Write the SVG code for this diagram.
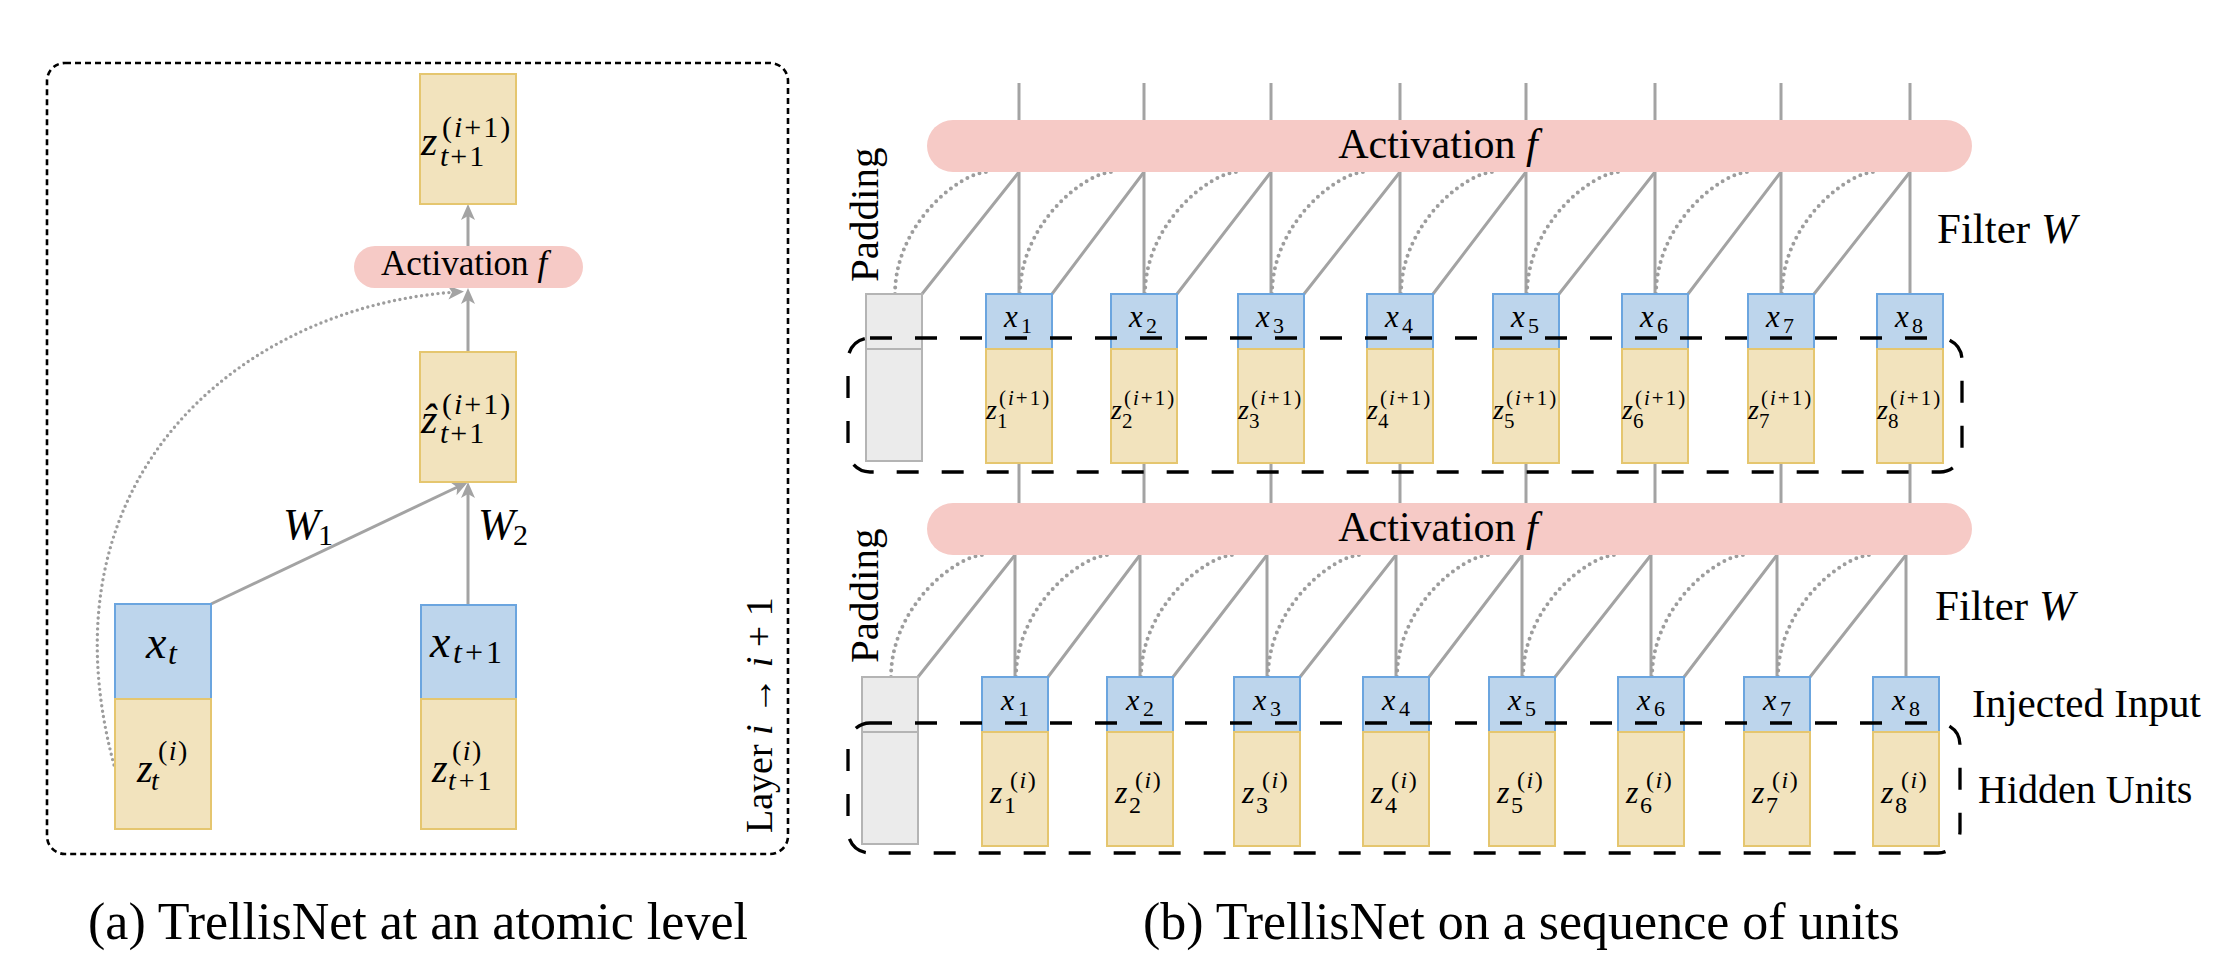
<svg xmlns="http://www.w3.org/2000/svg" width="2228" height="962" viewBox="0 0 2228 962">
<defs>
<style>
text{font-family:"Liberation Serif","Times New Roman",serif;fill:#000}
.zb{fill:#f2e3bd;stroke:#e5c66f;stroke-width:2}
.xb{fill:#bdd5ec;stroke:#6ba5df;stroke-width:2}
.pb{fill:#ebebeb;stroke:#b4b4b4;stroke-width:2}
.pill{fill:#f6cac6}
.ln{fill:none;stroke:#a3a3a3;stroke-width:3}
.dot{fill:none;stroke:#9d9d9d;stroke-width:4;stroke-dasharray:0 6.5;stroke-linecap:round}
.dotl{fill:none;stroke:#9d9d9d;stroke-width:3.4;stroke-dasharray:0 5.5;stroke-linecap:round}
.grp{fill:none;stroke:#000;stroke-width:3.3;stroke-dasharray:22 23}
.frame{fill:none;stroke:#000;stroke-width:2.6;stroke-dasharray:6 4}
.i{font-style:italic}
.r{font-style:normal}
</style>
<marker id="ah" markerUnits="userSpaceOnUse" markerWidth="26" markerHeight="20" viewBox="-13 -10 26 20" refX="0" refY="0" orient="auto">
<path d="M7,0 L-9,-7 L-5,0 L-9,7 Z" fill="#a3a3a3"/>
</marker>
</defs>
<rect width="2228" height="962" fill="#fff"/>

<g id="a-connectors">
<path class="dotl" d="M114,765 C35,470 250,305 457,292" marker-end="url(#ah)"/>
<path class="ln" d="M468,246 V211" marker-end="url(#ah)"/>
<path class="ln" d="M468,352 V295" marker-end="url(#ah)"/>
<path class="ln" d="M468,605 V489" marker-end="url(#ah)"/>
<path class="ln" d="M211,604 L461.7,485" marker-end="url(#ah)"/>
</g>
<g id="a-z-out">
<rect class="zb" x="420" y="74" width="96" height="130"/>
<text class="i" x="421" y="155" font-size="42">z<tspan x="440" y="166" font-size="30" letter-spacing="2">t<tspan class="r">+1</tspan></tspan><tspan class="r" x="442" y="137" font-size="30" letter-spacing="2">(<tspan class="i">i</tspan>+1)</tspan></text>
</g>
<g id="a-activation">
<rect class="pill" x="354" y="246" width="229" height="42" rx="21"/>
<text x="464" y="275" font-size="35" text-anchor="middle">Activation <tspan class="i">f</tspan></text>
</g>
<g id="a-z-hat">
<rect class="zb" x="420" y="352" width="96" height="130"/>
<text class="i" x="421" y="433" font-size="42">ẑ<tspan x="440" y="443" font-size="30" letter-spacing="2">t<tspan class="r">+1</tspan></tspan><tspan class="r" x="442" y="414" font-size="30" letter-spacing="2">(<tspan class="i">i</tspan>+1)</tspan></text>
</g>
<g id="a-x-t">
<rect class="xb" x="115" y="604" width="96" height="95"/>
<text class="i" x="146" y="658" font-size="46">x<tspan x="168" y="664" font-size="32">t</tspan></text>
</g>
<g id="a-z-t">
<rect class="zb" x="115" y="699" width="96" height="130"/>
<text class="i" x="137" y="782" font-size="40">z<tspan x="151" y="790" font-size="28">t</tspan><tspan class="r" x="158" y="760" font-size="28" letter-spacing="1.5">(<tspan class="i">i</tspan>)</tspan></text>
</g>
<g id="a-x-t1">
<rect class="xb" x="421" y="605" width="95" height="94"/>
<text class="i" x="430" y="657" font-size="46">x<tspan x="453" y="663" font-size="32" letter-spacing="3">t<tspan class="r">+1</tspan></tspan></text>
</g>
<g id="a-z-t1">
<rect class="zb" x="421" y="699" width="95" height="130"/>
<text class="i" x="432" y="782" font-size="40">z<tspan x="448" y="790" font-size="28" letter-spacing="3">t<tspan class="r">+1</tspan></tspan><tspan class="r" x="452" y="760" font-size="28" letter-spacing="1.5">(<tspan class="i">i</tspan>)</tspan></text>
</g>
<g id="a-labels">
<text class="i" x="283" y="539" font-size="44">W<tspan class="r" x="318" y="545" font-size="30">1</tspan></text>
<text class="i" x="478" y="539" font-size="44">W<tspan class="r" x="513" y="545" font-size="30">2</tspan></text>
<text transform="translate(772,833) rotate(-90)" font-size="38">Layer <tspan class="i">i</tspan> → <tspan class="i">i</tspan> + 1</text>
</g>
<g id="a-frame">
<rect class="frame" x="47" y="63" width="741" height="791" rx="18"/>
</g>

<g id="b-connectors">
<path class="ln" d="M1019,83 V294 M1144,83 V294 M1271,83 V294 M1400,83 V294 M1526,83 V294 M1655,83 V294 M1781,83 V294 M1910,83 V294"/>
<path class="ln" d="M1019,172 L922,294 M1144,172 L1052,294 M1271,172 L1177,294 M1400,172 L1304,294 M1526,172 L1433,294 M1655,172 L1559,294 M1781,172 L1688,294 M1910,172 L1814,294"/>
<path class="dot" d="M895,294 C895,224 960,172 988,172 M1020,294 C1020,224 1085,172 1113,172 M1145,294 C1145,224 1210,172 1238,172 M1272,294 C1272,224 1337,172 1365,172 M1401,294 C1401,224 1466,172 1494,172 M1527,294 C1527,224 1592,172 1620,172 M1656,294 C1656,224 1721,172 1749,172 M1782,294 C1782,224 1847,172 1875,172"/>
<path class="ln" d="M1019,463 V510 M1144,463 V510 M1271,463 V510 M1400,463 V510 M1526,463 V510 M1655,463 V510 M1781,463 V510 M1910,463 V510"/>
<path class="ln" d="M1015,510 V677 M1140,510 V677 M1267,510 V677 M1396,510 V677 M1522,510 V677 M1651,510 V677 M1777,510 V677 M1906,510 V677"/>
<path class="ln" d="M1015,555 L918,677 M1140,555 L1048,677 M1267,555 L1173,677 M1396,555 L1300,677 M1522,555 L1429,677 M1651,555 L1555,677 M1777,555 L1684,677 M1906,555 L1810,677"/>
<path class="dot" d="M891,677 C891,607 956,555 984,555 M1016,677 C1016,607 1081,555 1109,555 M1141,677 C1141,607 1206,555 1234,555 M1268,677 C1268,607 1333,555 1361,555 M1397,677 C1397,607 1462,555 1490,555 M1523,677 C1523,607 1588,555 1616,555 M1652,677 C1652,607 1717,555 1745,555 M1778,677 C1778,607 1843,555 1871,555"/>
</g>

<g id="b-activation-1">
<rect class="pill" x="927" y="120" width="1045" height="52" rx="26"/>
<text x="1438" y="158" font-size="42" text-anchor="middle">Activation <tspan class="i">f</tspan></text>
</g>
<g id="b-activation-2">
<rect class="pill" x="927" y="503" width="1045" height="52" rx="26"/>
<text x="1438" y="541" font-size="42" text-anchor="middle">Activation <tspan class="i">f</tspan></text>
</g>

<g id="b-padding-1">
<rect class="pb" x="866" y="294" width="56" height="55"/>
<rect class="pb" x="866" y="349" width="56" height="112"/>
<text transform="translate(878,282) rotate(-90)" font-size="41">Padding</text>
</g>
<g id="b-x1-top"><rect class="xb" x="986" y="294" width="66" height="55"/><text class="i" x="1004" y="327" font-size="31">x<tspan class="r" x="1021" y="333" font-size="22">1</tspan></text></g>
<g id="b-x2-top"><rect class="xb" x="1111" y="294" width="66" height="55"/><text class="i" x="1129" y="327" font-size="31">x<tspan class="r" x="1146" y="333" font-size="22">2</tspan></text></g>
<g id="b-x3-top"><rect class="xb" x="1238" y="294" width="66" height="55"/><text class="i" x="1256" y="327" font-size="31">x<tspan class="r" x="1273" y="333" font-size="22">3</tspan></text></g>
<g id="b-x4-top"><rect class="xb" x="1367" y="294" width="66" height="55"/><text class="i" x="1385" y="327" font-size="31">x<tspan class="r" x="1402" y="333" font-size="22">4</tspan></text></g>
<g id="b-x5-top"><rect class="xb" x="1493" y="294" width="66" height="55"/><text class="i" x="1511" y="327" font-size="31">x<tspan class="r" x="1528" y="333" font-size="22">5</tspan></text></g>
<g id="b-x6-top"><rect class="xb" x="1622" y="294" width="66" height="55"/><text class="i" x="1640" y="327" font-size="31">x<tspan class="r" x="1657" y="333" font-size="22">6</tspan></text></g>
<g id="b-x7-top"><rect class="xb" x="1748" y="294" width="66" height="55"/><text class="i" x="1766" y="327" font-size="31">x<tspan class="r" x="1783" y="333" font-size="22">7</tspan></text></g>
<g id="b-x8-top"><rect class="xb" x="1877" y="294" width="66" height="55"/><text class="i" x="1895" y="327" font-size="31">x<tspan class="r" x="1912" y="333" font-size="22">8</tspan></text></g>

<g id="b-z1-top"><rect class="zb" x="986" y="349" width="66" height="114"/><text class="i" x="986" y="419" font-size="28">z<tspan class="r" x="997" y="428" font-size="21">1</tspan><tspan class="r" x="999" y="405" font-size="21" letter-spacing="2">(<tspan class="i">i</tspan>+1)</tspan></text></g>
<g id="b-z2-top"><rect class="zb" x="1111" y="349" width="66" height="114"/><text class="i" x="1111" y="419" font-size="28">z<tspan class="r" x="1122" y="428" font-size="21">2</tspan><tspan class="r" x="1124" y="405" font-size="21" letter-spacing="2">(<tspan class="i">i</tspan>+1)</tspan></text></g>
<g id="b-z3-top"><rect class="zb" x="1238" y="349" width="66" height="114"/><text class="i" x="1238" y="419" font-size="28">z<tspan class="r" x="1249" y="428" font-size="21">3</tspan><tspan class="r" x="1251" y="405" font-size="21" letter-spacing="2">(<tspan class="i">i</tspan>+1)</tspan></text></g>
<g id="b-z4-top"><rect class="zb" x="1367" y="349" width="66" height="114"/><text class="i" x="1367" y="419" font-size="28">z<tspan class="r" x="1378" y="428" font-size="21">4</tspan><tspan class="r" x="1380" y="405" font-size="21" letter-spacing="2">(<tspan class="i">i</tspan>+1)</tspan></text></g>
<g id="b-z5-top"><rect class="zb" x="1493" y="349" width="66" height="114"/><text class="i" x="1493" y="419" font-size="28">z<tspan class="r" x="1504" y="428" font-size="21">5</tspan><tspan class="r" x="1506" y="405" font-size="21" letter-spacing="2">(<tspan class="i">i</tspan>+1)</tspan></text></g>
<g id="b-z6-top"><rect class="zb" x="1622" y="349" width="66" height="114"/><text class="i" x="1622" y="419" font-size="28">z<tspan class="r" x="1633" y="428" font-size="21">6</tspan><tspan class="r" x="1635" y="405" font-size="21" letter-spacing="2">(<tspan class="i">i</tspan>+1)</tspan></text></g>
<g id="b-z7-top"><rect class="zb" x="1748" y="349" width="66" height="114"/><text class="i" x="1748" y="419" font-size="28">z<tspan class="r" x="1759" y="428" font-size="21">7</tspan><tspan class="r" x="1761" y="405" font-size="21" letter-spacing="2">(<tspan class="i">i</tspan>+1)</tspan></text></g>
<g id="b-z8-top"><rect class="zb" x="1877" y="349" width="66" height="114"/><text class="i" x="1877" y="419" font-size="28">z<tspan class="r" x="1888" y="428" font-size="21">8</tspan><tspan class="r" x="1890" y="405" font-size="21" letter-spacing="2">(<tspan class="i">i</tspan>+1)</tspan></text></g>

<g id="b-padding-2">
<rect class="pb" x="862" y="677" width="56" height="55"/>
<rect class="pb" x="862" y="732" width="56" height="112"/>
<text transform="translate(878,663) rotate(-90)" font-size="41">Padding</text>
</g>
<g id="b-x1-bot"><rect class="xb" x="982" y="677" width="66" height="55"/><text class="i" x="1001" y="710" font-size="30">x<tspan class="r" x="1018" y="716" font-size="22">1</tspan></text></g>
<g id="b-x2-bot"><rect class="xb" x="1107" y="677" width="66" height="55"/><text class="i" x="1126" y="710" font-size="30">x<tspan class="r" x="1143" y="716" font-size="22">2</tspan></text></g>
<g id="b-x3-bot"><rect class="xb" x="1234" y="677" width="66" height="55"/><text class="i" x="1253" y="710" font-size="30">x<tspan class="r" x="1270" y="716" font-size="22">3</tspan></text></g>
<g id="b-x4-bot"><rect class="xb" x="1363" y="677" width="66" height="55"/><text class="i" x="1382" y="710" font-size="30">x<tspan class="r" x="1399" y="716" font-size="22">4</tspan></text></g>
<g id="b-x5-bot"><rect class="xb" x="1489" y="677" width="66" height="55"/><text class="i" x="1508" y="710" font-size="30">x<tspan class="r" x="1525" y="716" font-size="22">5</tspan></text></g>
<g id="b-x6-bot"><rect class="xb" x="1618" y="677" width="66" height="55"/><text class="i" x="1637" y="710" font-size="30">x<tspan class="r" x="1654" y="716" font-size="22">6</tspan></text></g>
<g id="b-x7-bot"><rect class="xb" x="1744" y="677" width="66" height="55"/><text class="i" x="1763" y="710" font-size="30">x<tspan class="r" x="1780" y="716" font-size="22">7</tspan></text></g>
<g id="b-x8-bot"><rect class="xb" x="1873" y="677" width="66" height="55"/><text class="i" x="1892" y="710" font-size="30">x<tspan class="r" x="1909" y="716" font-size="22">8</tspan></text></g>

<g id="b-z1-bot"><rect class="zb" x="982" y="732" width="66" height="114"/><text class="i" x="990" y="803" font-size="32">z<tspan class="r" x="1004" y="813" font-size="24">1</tspan><tspan class="r" x="1010" y="788" font-size="24" letter-spacing="1.5">(<tspan class="i">i</tspan>)</tspan></text></g>
<g id="b-z2-bot"><rect class="zb" x="1107" y="732" width="66" height="114"/><text class="i" x="1115" y="803" font-size="32">z<tspan class="r" x="1129" y="813" font-size="24">2</tspan><tspan class="r" x="1135" y="788" font-size="24" letter-spacing="1.5">(<tspan class="i">i</tspan>)</tspan></text></g>
<g id="b-z3-bot"><rect class="zb" x="1234" y="732" width="66" height="114"/><text class="i" x="1242" y="803" font-size="32">z<tspan class="r" x="1256" y="813" font-size="24">3</tspan><tspan class="r" x="1262" y="788" font-size="24" letter-spacing="1.5">(<tspan class="i">i</tspan>)</tspan></text></g>
<g id="b-z4-bot"><rect class="zb" x="1363" y="732" width="66" height="114"/><text class="i" x="1371" y="803" font-size="32">z<tspan class="r" x="1385" y="813" font-size="24">4</tspan><tspan class="r" x="1391" y="788" font-size="24" letter-spacing="1.5">(<tspan class="i">i</tspan>)</tspan></text></g>
<g id="b-z5-bot"><rect class="zb" x="1489" y="732" width="66" height="114"/><text class="i" x="1497" y="803" font-size="32">z<tspan class="r" x="1511" y="813" font-size="24">5</tspan><tspan class="r" x="1517" y="788" font-size="24" letter-spacing="1.5">(<tspan class="i">i</tspan>)</tspan></text></g>
<g id="b-z6-bot"><rect class="zb" x="1618" y="732" width="66" height="114"/><text class="i" x="1626" y="803" font-size="32">z<tspan class="r" x="1640" y="813" font-size="24">6</tspan><tspan class="r" x="1646" y="788" font-size="24" letter-spacing="1.5">(<tspan class="i">i</tspan>)</tspan></text></g>
<g id="b-z7-bot"><rect class="zb" x="1744" y="732" width="66" height="114"/><text class="i" x="1752" y="803" font-size="32">z<tspan class="r" x="1766" y="813" font-size="24">7</tspan><tspan class="r" x="1772" y="788" font-size="24" letter-spacing="1.5">(<tspan class="i">i</tspan>)</tspan></text></g>
<g id="b-z8-bot"><rect class="zb" x="1873" y="732" width="66" height="114"/><text class="i" x="1881" y="803" font-size="32">z<tspan class="r" x="1895" y="813" font-size="24">8</tspan><tspan class="r" x="1901" y="788" font-size="24" letter-spacing="1.5">(<tspan class="i">i</tspan>)</tspan></text></g>

<g id="b-group-1"><rect class="grp" x="848" y="338" width="1114" height="134" rx="22"/></g>
<g id="b-group-2"><rect class="grp" x="848" y="723" width="1112" height="130" rx="22"/></g>

<g id="b-labels">
<text x="1937" y="243" font-size="43">Filter <tspan class="i">W</tspan></text>
<text x="1935" y="620" font-size="43">Filter <tspan class="i">W</tspan></text>
<text x="1972" y="717" font-size="41">Injected Input</text>
<text x="1978" y="803" font-size="40">Hidden Units</text>
</g>

<g id="captions">
<text x="88" y="939" font-size="52">(a) TrellisNet at an atomic level</text>
<text x="1143" y="939" font-size="52">(b) TrellisNet on a sequence of units</text>
</g>
</svg>
